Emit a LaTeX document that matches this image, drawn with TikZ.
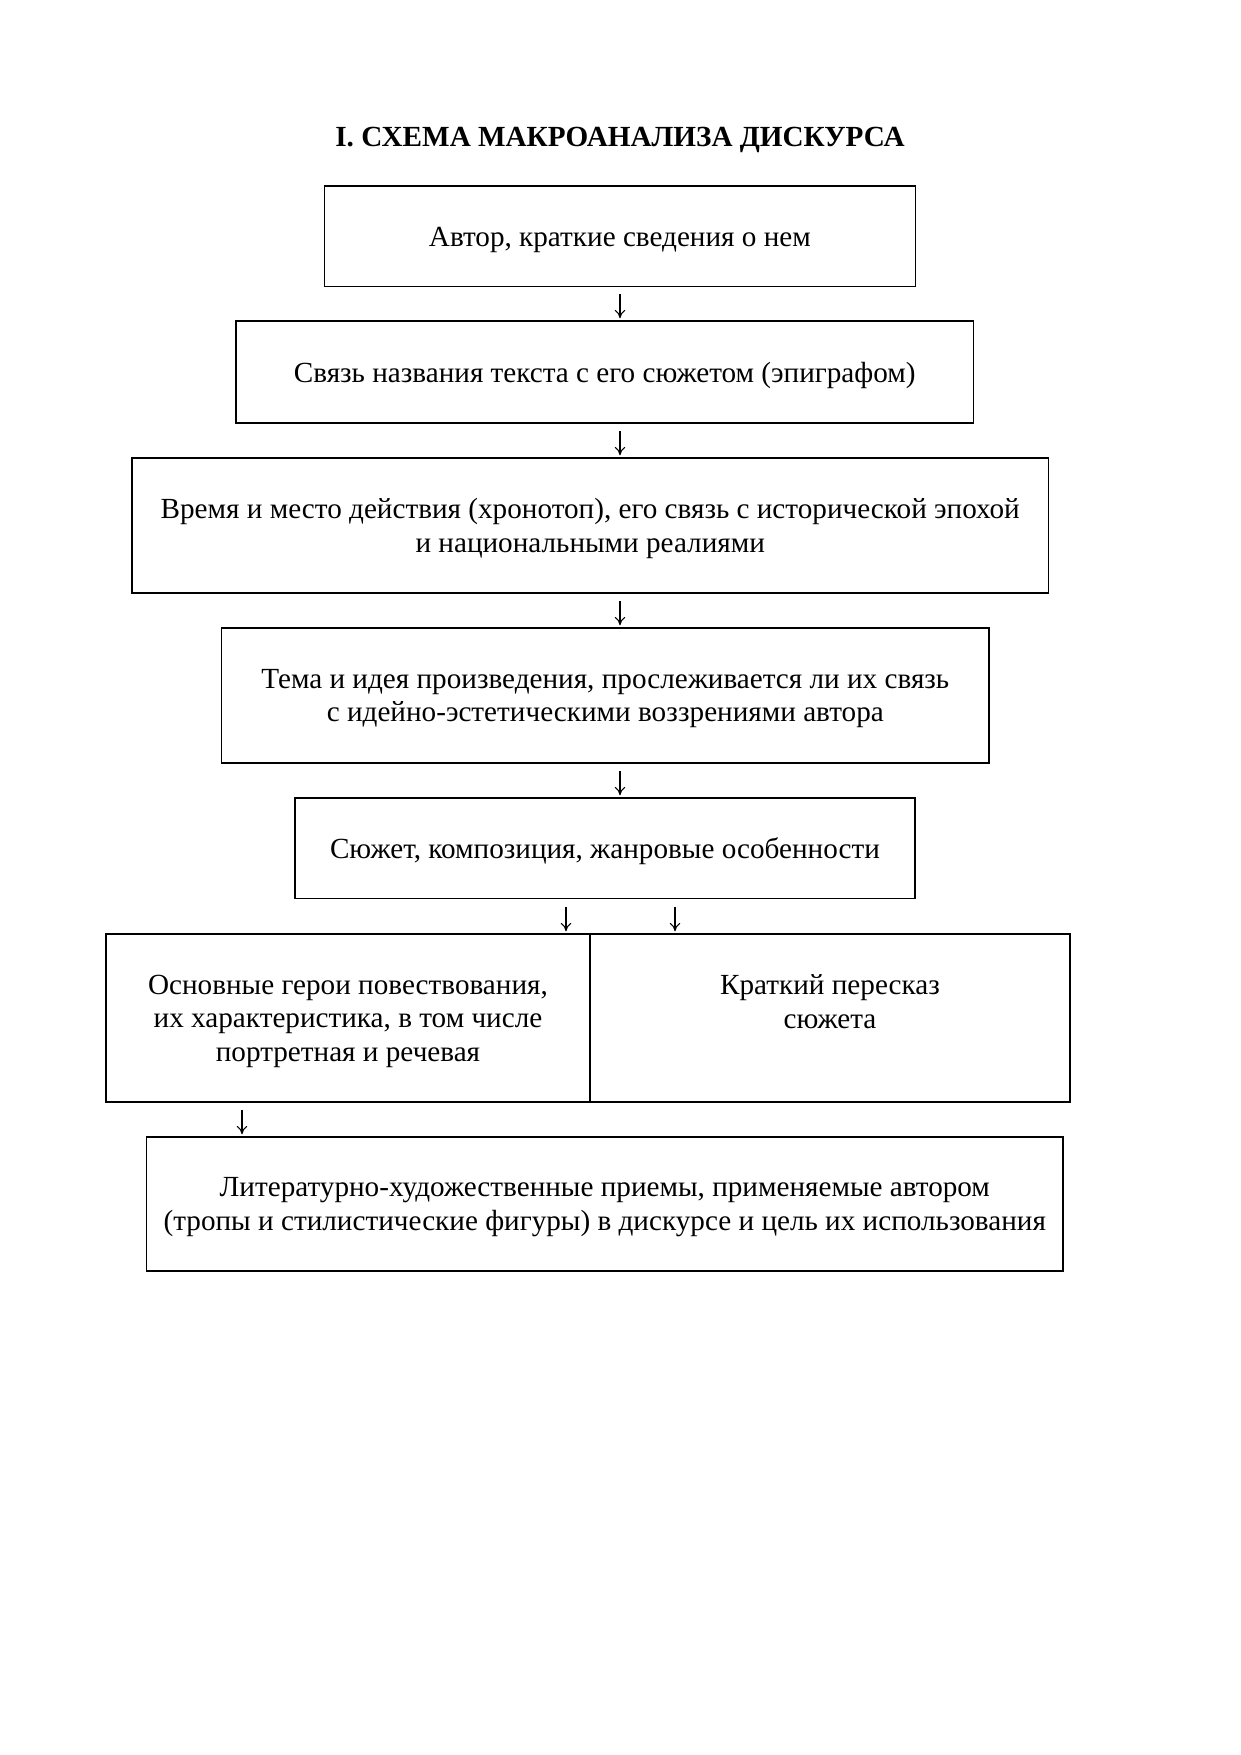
\documentclass[tikz,border=0pt]{standalone}
\usepackage{fontspec}
\setmainfont{Liberation Serif}
\usetikzlibrary{fit,arrows.meta}
\begin{document}
\begin{tikzpicture}[x=0.4797pt,y=-0.4797pt,
  box/.style={draw, line width=0.6pt, inner sep=0pt},
  txt/.style={align=center, inner sep=0pt, font=\fontsize{14}{16.1}\selectfont},
  arr/.style={-{To[length=4pt,width=5pt]}, line width=0.5pt, shorten <=3.5pt, shorten >=1pt}]
\useasboundingbox[fill=white] (0,0) rectangle (1241,1755);
\node[font=\fontsize{14}{16.1}\selectfont\bfseries] (title) at (620,139.5) {I. СХЕМА МАКРОАНАЛИЗА ДИСКУРСА};
\node[box, fit={(324.5,186) (915.3,286.5)}] (b1) {};
\node[box, fit={(236,321) (973.5,423)}] (b2) {};
\node[box, fit={(132,458) (1048.5,593)}] (b3) {};
\node[box, fit={(221.6,628) (989,763)}] (b4) {};
\node[box, fit={(295,798) (915,898.6)}] (b5) {};
\node[box, fit={(106,934) (590,1102)}] (b6a) {};
\node[box, fit={(590,934) (1070,1102)}] (b6b) {};
\node[box, fit={(146.6,1137) (1063,1271)}] (b7) {};
\node[txt] (t1) at ([yshift=-2pt]b1.center) {Автор, краткие сведения о нем};
\node[txt] (t2) at ([yshift=-1.5pt]b2.center) {Связь названия текста с его сюжетом (эпиграфом)};
\node[txt] (t3) at ([yshift=-1.5pt]b3.center) {Время и место действия (хронотоп), его связь с исторической эпохой\\и национальными реалиями};
\node[txt] (t4) at ([yshift=-1.5pt]b4.center) {Тема и идея произведения, прослеживается ли их связь\\с идейно-эстетическими воззрениями автора};
\node[txt] (t5) at ([yshift=-1.5pt]b5.center) {Сюжет, композиция, жанровые особенности};
\node[txt] (t6a) at ([yshift=-1.5pt]b6a.center) {Основные герои повествования,\\их характеристика, в том числе\\портретная и речевая};
\node[txt] (t6b) at (b6b.center) {Краткий пересказ\\сюжета\\ \mbox{}};
\node[txt] (t7) at ([yshift=-1.5pt]b7.center) {Литературно-художественные приемы, применяемые автором\\(тропы и стилистические фигуры) в дискурсе и цель их использования};
\coordinate (ax) at (620,0);
\coordinate (ay) at (566,0);
\coordinate (az) at (675,0);
\coordinate (aw) at (242,0);
\draw[arr] (b1.south -| ax) -- (b2.north -| ax);
\draw[arr] (b2.south -| ax) -- (b3.north -| ax);
\draw[arr] (b3.south -| ax) -- (b4.north -| ax);
\draw[arr] (b4.south -| ax) -- (b5.north -| ax);
\draw[arr] (b5.south -| ay) -- (b6a.north -| ay);
\draw[arr] (b5.south -| az) -- (b6b.north -| az);
\draw[arr] (b6a.south -| aw) -- (b7.north -| aw);
\end{tikzpicture}
\end{document}
